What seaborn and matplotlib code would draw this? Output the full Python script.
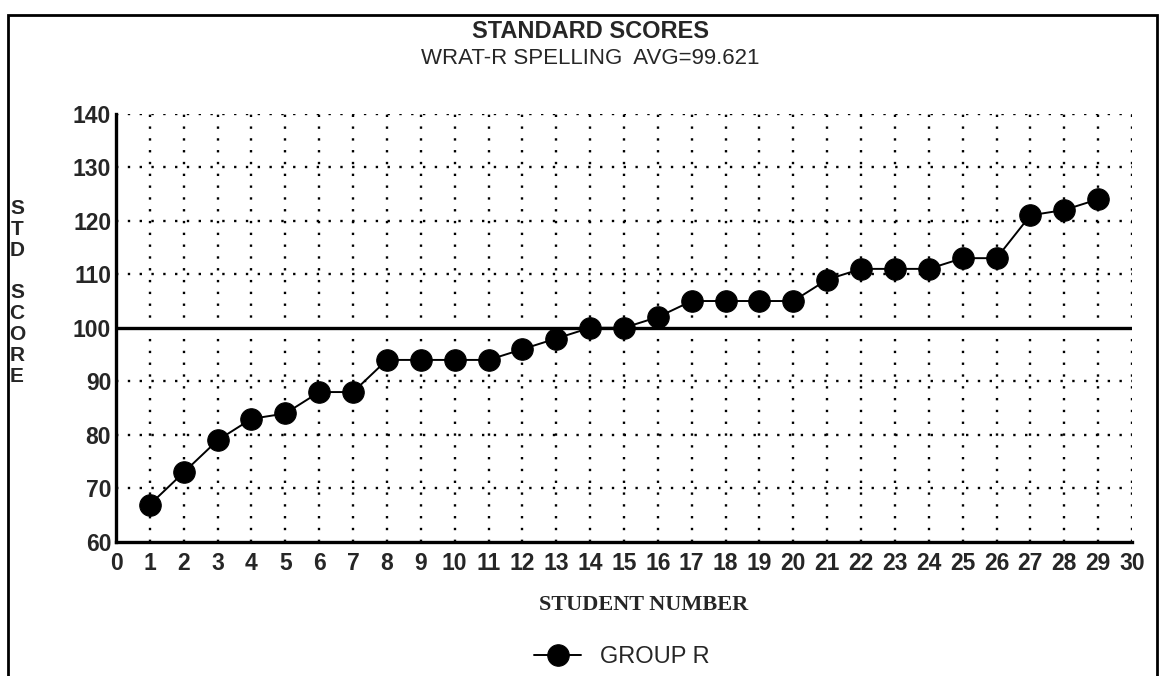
import matplotlib
matplotlib.use("Agg")
import matplotlib.pyplot as plt
import seaborn as sns
import pandas as pd
from matplotlib.patches import Rectangle
from matplotlib import font_manager

students = list(range(1, 30))
scores = [67, 73, 79, 83, 84, 88, 88, 94, 94, 94, 94, 96, 98, 100, 100,
          102, 105, 105, 105, 105, 109, 111, 111, 111, 113, 113, 121, 122, 124]
x_ticks = list(range(0, 31))
y_ticks = [60, 70, 80, 90, 100, 110, 120, 130, 140]
title = "STANDARD SCORES"
subtitle = "WRAT-R SPELLING  AVG=99.621"
x_label = "STUDENT NUMBER"
y_label_letters = ["S", "T", "D", "", "S", "C", "O", "R", "E"]
series_name = "GROUP R"
reference_value = 100

sns.set_theme(style="white")
plt.rcParams['font.family'] = ['Liberation Sans', 'DejaVu Sans']

names = {f.name for f in font_manager.fontManager.ttflist}
narrow = "Liberation Sans Narrow" if "Liberation Sans Narrow" in names else "Liberation Sans"

df = pd.DataFrame({"student": students, "score": scores, "group": series_name})

fig = plt.figure(figsize=(11.59, 6.76), dpi=100)
ax = fig.add_axes([0.1001, 0.1982, 0.8766, 0.6338])

sns.lineplot(data=df, x="student", y="score", ax=ax, color="black",
             marker="o", markersize=15.5, markeredgecolor="black",
             markerfacecolor="black", linewidth=1.4, label=series_name,
             legend=False)

ax.axhline(reference_value, color="black", linewidth=2.4, zorder=1)

ax.set_xlim(0, 30)
ax.set_ylim(60, 140)
ax.set_xticks(x_ticks)
ax.set_xticklabels([str(t) for t in x_ticks], fontsize=16.5, fontweight="bold")
ax.set_yticks(y_ticks)
ax.set_yticklabels([str(t) for t in y_ticks], fontsize=16.5, fontweight="bold")
ax.tick_params(axis="both", which="both", length=5, width=1.5, color="black",
               direction="inout", pad=1)
ax.tick_params(axis="x", pad=5)

for v in x_ticks[1:]:
    ax.axvline(v, color="black", linestyle=(0, (1, 4)), linewidth=1.7, zorder=0)
for v in y_ticks[1:]:
    if v != reference_value:
        ax.axhline(v, color="black", linestyle=(0, (1, 4)), linewidth=1.7, zorder=0)

for side in ["top", "right"]:
    ax.spines[side].set_visible(False)
for side in ["left", "bottom"]:
    ax.spines[side].set_linewidth(2.4)
    ax.spines[side].set_color("black")
ax.set_xlabel("")
ax.set_ylabel("")
ax.grid(False)

# Outer frame
fig.patches.append(Rectangle((8 / 1159, -0.05), 1149 / 1159, 1 - 15 / 676 + 0.05,
                             transform=fig.transFigure, fill=False,
                             edgecolor="black", linewidth=2))

fig.text(590 / 1159, 1 - 31 / 676, title, ha="center", va="center", fontsize=17,
         fontweight="bold", family=[narrow, "DejaVu Sans"])
fig.text(590 / 1159, 1 - 58 / 676, subtitle, ha="center", va="center", fontsize=16,
         family=[narrow, "DejaVu Sans"])

y0 = 208
for i, letter in enumerate(y_label_letters):
    if letter:
        fig.text(17 / 1159, 1 - (y0 + i * 21.1) / 676, letter, ha="center",
                 va="center", fontsize=15, fontweight="bold")

fig.text(644 / 1159, 1 - 605 / 676, x_label, ha="center", va="center", fontsize=16,
         fontweight="bold", family=["Liberation Serif", "DejaVu Serif"])

handles, labels = ax.get_legend_handles_labels()
leg = fig.legend(handles, labels, loc="center", bbox_to_anchor=(622 / 1159, 1 - 657 / 676),
                 frameon=False, handlelength=2.0, handletextpad=0.8,
                 prop={"family": [narrow, "DejaVu Sans"], "size": 17})

fig.savefig("out.png", dpi=100)
